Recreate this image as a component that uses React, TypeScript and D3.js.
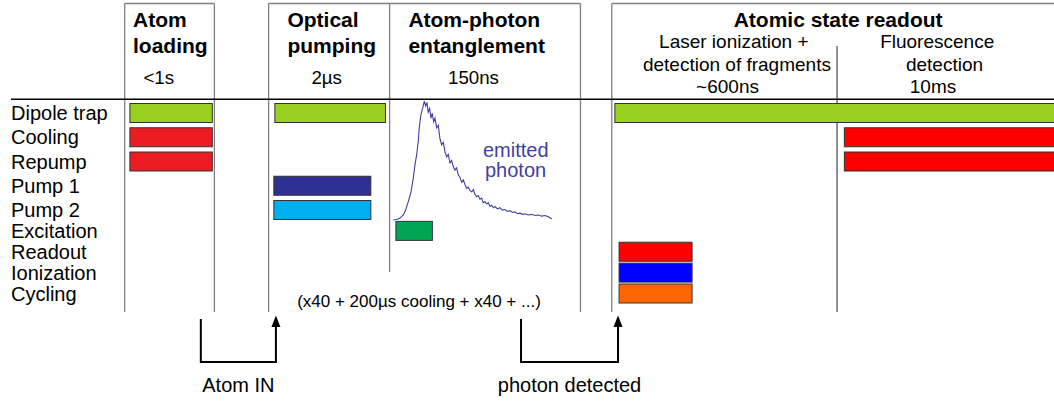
import React from "react";
import * as d3 from "d3";

// ---------- data ----------
const rows = ["Dipole trap", "Cooling", "Repump", "Pump 1", "Pump 2", "Excitation", "Readout", "Ionization", "Cycling"];

// schematic time axis (arbitrary units 0..100) – phase boundaries
const phaseEdges = [10.9, 19.5, 24.7, 36.3, 54.6, 57.6, 79.2];

// bars: row, start, end (schematic units), beam kind
const bars = [
  { row: "Dipole trap", start: 11.4, end: 19.3, kind: "trap" },
  { row: "Cooling", start: 11.4, end: 19.3, kind: "mot" },
  { row: "Repump", start: 11.4, end: 19.3, kind: "mot" },
  { row: "Dipole trap", start: 25.3, end: 35.9, kind: "trap" },
  { row: "Pump 1", start: 25.2, end: 34.5, kind: "pump1" },
  { row: "Pump 2", start: 25.2, end: 34.5, kind: "pump2" },
  { row: "Excitation", start: 36.9, end: 40.4, kind: "exc" },
  { row: "Dipole trap", start: 57.9, end: 101, kind: "trap" },
  { row: "Readout", start: 58.3, end: 65.3, kind: "readout" },
  { row: "Ionization", start: 58.3, end: 65.3, kind: "ion" },
  { row: "Cycling", start: 58.3, end: 65.3, kind: "cycling" },
  { row: "Cooling", start: 79.9, end: 101, kind: "fluo" },
  { row: "Repump", start: 79.9, end: 101, kind: "fluo" },
];

// emitted photon histogram (time in ns, normalised counts)
const photonT = [0, 3, 6.3, 9.5, 11.7, 14.2, 16.8, 18.9, 20.5, 22.2, 23.7, 24.6, 26.2, 27.8, 29.4, 30.7, 31.9, 33.1, 34.5, 35.7, 36.9, 38.3, 39.5, 41.1, 42.6, 44.2, 45.8, 47.4, 49, 50.6, 52.1, 53.7, 55.3, 56.8, 58.4, 60, 61.6, 63.2, 64.8, 66.4, 67.9, 69.5, 71, 72.7, 74.3, 75.8, 77.4, 79, 80.5, 82.1, 83.7, 85.2, 86.8, 88.4, 90, 91.6, 93.2, 94.8, 96.3, 98.7, 101, 103.4, 105.8, 108.1, 110.5, 112.9, 115.3, 117.6, 120, 122.4, 124.7, 127.9, 131, 134.2, 137.3, 140.5, 143.7, 146.8, 150];
const photonC = [0.008, 0.012, 0.022, 0.05, 0.09, 0.16, 0.24, 0.35, 0.46, 0.55, 0.66, 0.77, 0.88, 0.93, 0.99, 0.95, 0.98, 0.9, 0.93, 0.85, 0.89, 0.82, 0.85, 0.77, 0.79, 0.68, 0.63, 0.65, 0.57, 0.53, 0.55, 0.48, 0.5, 0.45, 0.42, 0.44, 0.38, 0.36, 0.32, 0.34, 0.3, 0.27, 0.28, 0.25, 0.24, 0.26, 0.22, 0.2, 0.21, 0.18, 0.19, 0.15, 0.16, 0.14, 0.15, 0.12, 0.13, 0.11, 0.12, 0.1, 0.11, 0.09, 0.095, 0.08, 0.085, 0.07, 0.075, 0.06, 0.065, 0.055, 0.06, 0.05, 0.055, 0.045, 0.05, 0.04, 0.045, 0.035, 0.017];

// header texts
const headers = [
  { lines: ["Atom", "loading"], duration: "<1s", x: 11.7, dx: 12.7 },
  { lines: ["Optical", "pumping"], duration: "2\u00b5s", x: 26.5, dx: 28.8 },
  { lines: ["Atom-photon", "entanglement"], duration: "150ns", x: 38.1, dx: 41.9 },
];
const readoutTitle = "Atomic state readout";
const readoutSubs = [
  { lines: ["Laser ionization +", "detection of fragments", "~600ns"], cx: [69.3, 69.6, 68.7] },
  { lines: ["Fluorescence", "detection", "10ms"], cx: [88.8, 89.5, 88.4] },
];
const events = [
  { label: "Atom IN", from: 18.2, to: 25.4 },
  { label: "photon detected", from: 48.9, to: 58.2 },
];
const repeatNote = "(x40 + 200\u00b5s cooling + x40 + ...)";

// ---------- styles ----------
const colors: Record<string, string> = {
  trap: "#99d11f",
  mot: "#ec1c24",
  pump1: "#2e3192",
  pump2: "#00aeef",
  exc: "#00a651",
  readout: "#ff0000",
  ion: "#0000ff",
  cycling: "#ff6600",
  fluo: "#ff0000",
};
const FONT = "'Liberation Sans', Arial, Helvetica, sans-serif";

export default function App() {
  const W = 1054, H = 401;
  const x = d3.scaleLinear().domain([0, 100]).range([11, 1054]);
  const rowIndex = (r: string) => rows.indexOf(r);
  const y = d3.scaleLinear().domain([0, 4, 8]).range([113, 210, 293.5]);
  const barH = 19;

  const tx = d3.scaleLinear().domain([0, 150]).range([x(36.65), x(51.84)]);
  const cy = d3.scaleLinear().domain([0, 1]).range([221, 100]);
  const photonLine = d3.line<number>().x((_, i) => tx(photonT[i])).y((c) => cy(c));

  const lineBottom = 312;
  const boxTop = 3.5;
  const grey = "#808080";

  // vertical separators
  const vlines = phaseEdges.map((e, i) => ({
    x: x(e),
    y1: i === 6 ? 46 : boxTop,
    y2: i === 3 ? 272 : lineBottom,
  }));

  return (
    <svg width={W} height={H} style={{ position: "absolute", left: 0, top: 0, background: "#fff" }} fontFamily={FONT}>
      <rect width={W} height={H} fill="#fff" />
      {/* box tops */}
      <line x1={x(phaseEdges[0])} x2={x(phaseEdges[1])} y1={boxTop} y2={boxTop} stroke={grey} strokeWidth={1.3} />
      <line x1={x(phaseEdges[2])} x2={x(phaseEdges[4])} y1={boxTop} y2={boxTop} stroke={grey} strokeWidth={1.3} />
      <line x1={x(phaseEdges[5])} x2={W} y1={boxTop} y2={boxTop} stroke={grey} strokeWidth={1.3} />
      {vlines.map((v, i) => (
        <line key={i} x1={v.x} x2={v.x} y1={v.y1} y2={v.y2} stroke={i === 6 ? "#555" : grey} strokeWidth={1.3} />
      ))}
      {/* header line */}
      <line x1={11} x2={W} y1={99.3} y2={99.3} stroke="#000" strokeWidth={1.4} />

      {/* headers */}
      {headers.map((h, i) => (
        <g key={i}>
          {h.lines.map((l, j) => (
            <text key={j} x={x(h.x)} y={26.7 + j * 26.6} fontSize={21} fontWeight="bold" fill="#000">{l}</text>
          ))}
          <text x={x(h.dx)} y={84} fontSize={18.7} fill="#000">{h.duration}</text>
        </g>
      ))}
      <text x={x(79.3)} y={26.5} fontSize={21} fontWeight="bold" textAnchor="middle">{readoutTitle}</text>
      {readoutSubs.map((s, i) => (
        <g key={i}>
          {s.lines.map((l, j) => (
            <text key={j} x={x(s.cx[j])} y={48 + j * 22.7} fontSize={19} textAnchor="middle">{l}</text>
          ))}
        </g>
      ))}

      {/* row labels */}
      {rows.map((r, i) => (
        <text key={r} x={11} y={y(i) + 7} fontSize={20} fill="#000">{r}</text>
      ))}

      {/* bars */}
      {bars.map((b, i) => (
        <rect
          key={i}
          x={x(b.start)}
          y={y(rowIndex(b.row)) - barH / 2}
          width={x(b.end) - x(b.start)}
          height={barH}
          fill={colors[b.kind]}
          stroke="#333"
          strokeWidth={1}
        />
      ))}

      {/* emitted photon */}
      <path d={photonLine(photonC) || ""} fill="none" stroke="#3f3f9f" strokeWidth={1.1} />
      <text x={483} y={156.5} fontSize={20} fill="#3f3f9f">emitted</text>
      <text x={485} y={176.5} fontSize={20} fill="#3f3f9f">photon</text>

      <text x={419} y={306.7} fontSize={17} textAnchor="middle">{repeatNote}</text>

      {/* events */}
      {events.map((e, i) => {
        const x1 = x(e.from), x2 = x(e.to);
        return (
          <g key={i}>
            <path d={`M${x1},319V362H${x2}V324`} fill="none" stroke="#000" strokeWidth={2} />
            <path d={`M${x2},315.5L${x2 - 4.5},327L${x2 + 4.5},327Z`} fill="#000" />
            <text x={(x1 + x2) / 2} y={391.7} fontSize={20} textAnchor="middle">{e.label}</text>
          </g>
        );
      })}
    </svg>
  );
}
